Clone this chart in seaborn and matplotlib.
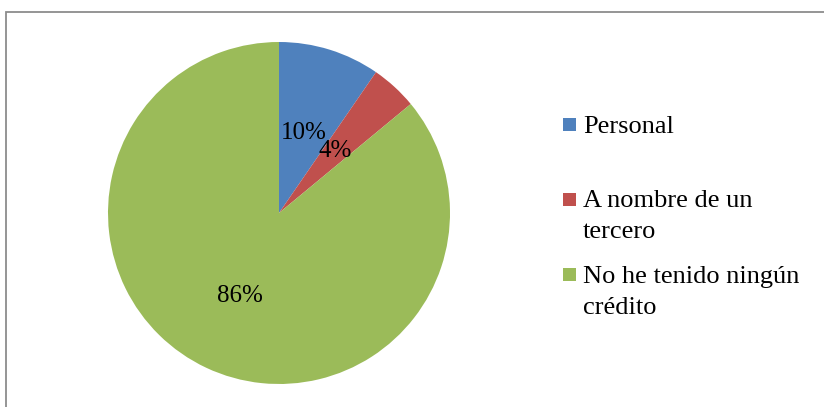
import matplotlib
matplotlib.use("Agg")
import matplotlib.pyplot as plt
from matplotlib.patches import Rectangle
import seaborn as sns

categories = ["Personal", "A nombre de un\ntercero", "No he tenido ningún\ncrédito"]
values = [9.6, 4.4, 86.0]
colors = ["#4F81BD", "#C0504D", "#9BBB59"]

sns.set_theme(style="white")
plt.rcParams["font.family"] = ["Liberation Serif", "DejaVu Serif"]

W, H = 824, 407
fig = plt.figure(figsize=(W / 100, H / 100), dpi=100)
fig.patch.set_facecolor("white")

# outer chart border (only top and left visible)
fig.patches.append(Rectangle((6 / W, -0.1), 2, (H - 12) / H + 0.1, transform=fig.transFigure,
                             fill=False, edgecolor="#8c8c8c", linewidth=1.3, zorder=0))

cx, cy, r = 279, 213, 171
ax = fig.add_axes([(cx - r) / W, (H - cy - r) / H, 2 * r / W, 2 * r / H])
base_dist = 0.49
wedges, texts, autotexts = ax.pie(values, colors=colors, startangle=90, counterclock=False,
                                  radius=1, autopct="%.0f%%", pctdistance=base_dist,
                                  wedgeprops=dict(linewidth=0),
                                  textprops=dict(fontsize=18, color="black"))
label_dist = [0.49, 0.49, 0.535]
for t, d in zip(autotexts, label_dist):
    x, y = t.get_position()
    t.set_position((x * d / base_dist, y * d / base_dist))
ax.set_xlim(-1, 1)
ax.set_ylim(-1, 1)
ax.set_aspect("auto")
ax.axis("off")

# legend drawn manually
square_centers = [124, 199.5, 274]
baselines = [133, 207, 283]
line_gap = 30.5
sq = 13
for cat, col, yc, yb in zip(categories, colors, square_centers, baselines):
    fig.patches.append(Rectangle((563 / W, (H - yc - sq / 2) / H), sq / W, sq / H,
                                 transform=fig.transFigure, facecolor=col, edgecolor="none"))
    for i, line in enumerate(cat.split("\n")):
        fig.text(583 / W, (H - yb - i * line_gap) / H, line, fontsize=19, va="baseline",
                 ha="left", color="black")

fig.savefig("out.png", dpi=100, facecolor="white")
